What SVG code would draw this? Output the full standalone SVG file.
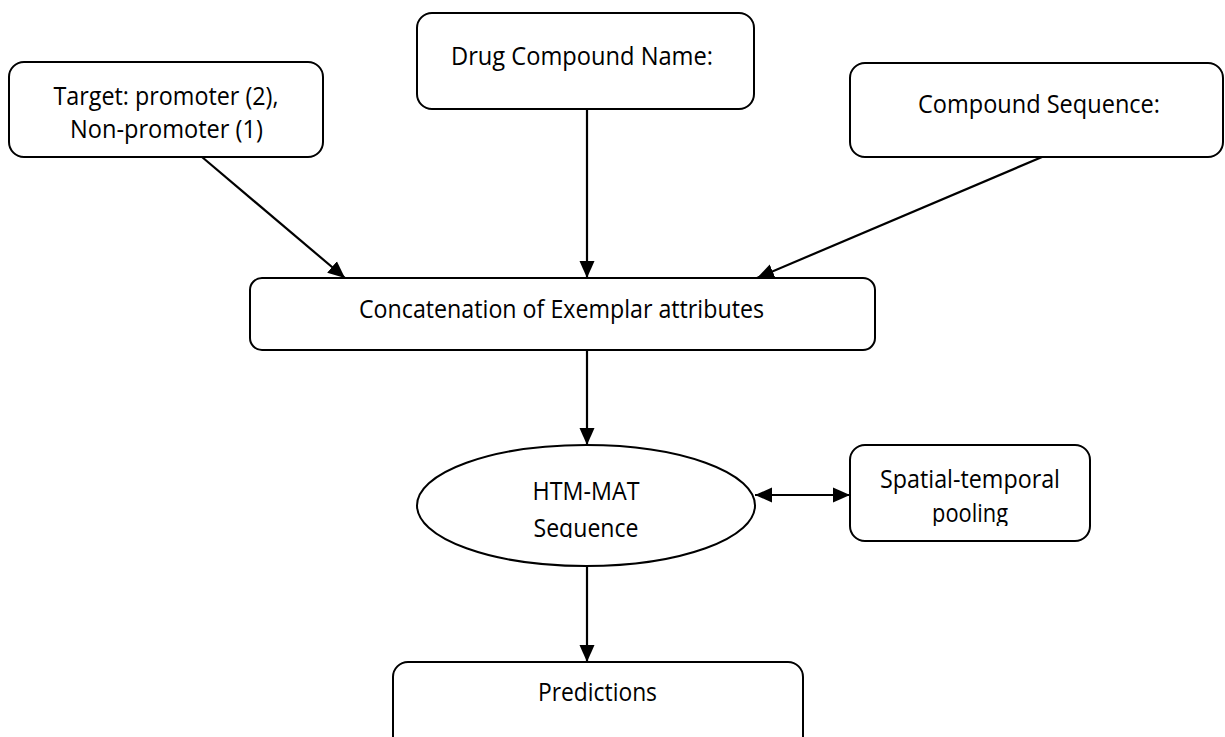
<svg xmlns="http://www.w3.org/2000/svg" width="1225" height="737" viewBox="0 0 1225 737">
<style>
.box{fill:#fff;stroke:#000;stroke-width:2}
.t{font-family:"Open Sans","Liberation Sans",sans-serif;font-size:25px;fill:#000;text-anchor:middle}
.c{stroke:#000;stroke-width:2.2;fill:none;marker-end:url(#ah)}
</style>
<defs>
<marker id="ah" markerUnits="userSpaceOnUse" markerWidth="19" markerHeight="16" refX="17" refY="7.5" orient="auto-start-reverse" viewBox="0 0 19 15">
<path d="M0,0 L17,7.5 L0,15 Z" fill="#000"/>
</marker>
<clipPath id="clipSeq"><rect x="400" y="440" width="400" height="98"/></clipPath>
<clipPath id="clipPool"><rect x="850" y="440" width="240" height="86"/></clipPath>
</defs>
<rect width="1225" height="737" fill="#fff"/>
<g id="connectors">
<line class="c" x1="202" y1="157" x2="345" y2="278"/>
<line class="c" x1="587" y1="109" x2="587" y2="278"/>
<line class="c" x1="1042" y1="157" x2="757" y2="278"/>
<line class="c" x1="587" y1="350" x2="587" y2="445"/>
<line class="c" x1="587" y1="566" x2="587" y2="662"/>
<line class="c" x1="755" y1="495" x2="850" y2="495" style="marker-start:url(#ah)"/>
</g>
<g id="target">
<rect class="box" x="9" y="62" width="314" height="95" rx="15"/>
<text class="t" x="166" y="105" textLength="225" lengthAdjust="spacingAndGlyphs">Target: promoter (2),</text>
<text class="t" x="166.5" y="138" textLength="193" lengthAdjust="spacingAndGlyphs">Non-promoter (1)</text>
</g>
<g id="drugname">
<rect class="box" x="417" y="13" width="337" height="96" rx="15"/>
<text class="t" x="582" y="65" textLength="262" lengthAdjust="spacingAndGlyphs">Drug Compound Name:</text>
</g>
<g id="compseq">
<rect class="box" x="850" y="63" width="373" height="94" rx="15"/>
<text class="t" x="1039" y="113" textLength="242" lengthAdjust="spacingAndGlyphs">Compound Sequence:</text>
</g>
<g id="concat">
<rect class="box" x="250" y="278" width="625" height="72" rx="12"/>
<text class="t" x="561.5" y="318" textLength="405" lengthAdjust="spacingAndGlyphs">Concatenation of Exemplar attributes</text>
</g>
<g id="htm">
<ellipse class="box" cx="586" cy="505.5" rx="169" ry="60.5"/>
<text class="t" x="586" y="500" textLength="107" lengthAdjust="spacingAndGlyphs">HTM-MAT</text>
<text class="t" x="586" y="537" textLength="105" lengthAdjust="spacingAndGlyphs" clip-path="url(#clipSeq)">Sequence</text>
</g>
<g id="spatial">
<rect class="box" x="850" y="445" width="240" height="96" rx="15"/>
<text class="t" x="970" y="488" textLength="180" lengthAdjust="spacingAndGlyphs">Spatial-temporal</text>
<text class="t" x="970" y="522" textLength="76" lengthAdjust="spacingAndGlyphs" clip-path="url(#clipPool)">pooling</text>
</g>
<g id="predictions">
<rect class="box" x="393" y="662" width="410" height="90" rx="15"/>
<text class="t" x="597.5" y="701" textLength="119" lengthAdjust="spacingAndGlyphs">Predictions</text>
</g>
</svg>
